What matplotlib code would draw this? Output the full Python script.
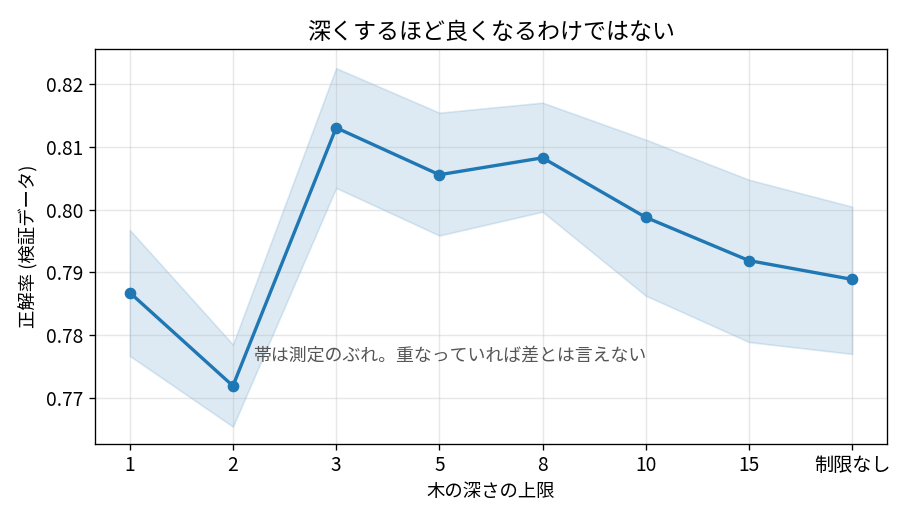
import matplotlib
matplotlib.use("Agg")
import matplotlib.pyplot as plt
import numpy as np

plt.rcParams['font.family'] = ['Noto Sans CJK JP', 'DejaVu Sans']

depth_labels = ["1", "2", "3", "5", "8", "10", "15", "制限なし"]
mean_acc = [0.7868, 0.7719, 0.8131, 0.8056, 0.8083, 0.7988, 0.7919, 0.7889]
upper_acc = [0.7968, 0.7785, 0.8226, 0.8155, 0.8171, 0.8112, 0.8048, 0.8005]
lower_acc = [0.7767, 0.7654, 0.8035, 0.7959, 0.7997, 0.7863, 0.7789, 0.7770]

DPI = 120
fig, ax = plt.subplots(figsize=(910 / DPI, 520 / DPI), dpi=DPI)
fig.subplots_adjust(left=0.104, right=0.975, top=0.905, bottom=0.147)

x = np.arange(len(depth_labels))
color = '#1f77b4'
ax.fill_between(x, lower_acc, upper_acc, color=color, alpha=0.15)
ax.plot(x, mean_acc, marker='o', color=color, linewidth=2, markersize=6)

ax.set_xticks(x)
ax.set_xticklabels(depth_labels, fontsize=11.5)
ax.tick_params(axis='y', labelsize=11.5)
ax.set_yticks([0.77, 0.78, 0.79, 0.80, 0.81, 0.82])
ax.set_yticklabels(["0.77", "0.78", "0.79", "0.80", "0.81", "0.82"])
ax.set_xlim(-0.34, 7.34)
ax.set_ylim(0.7627, 0.8256)
ax.grid(True, alpha=0.3)
ax.set_xlabel("木の深さの上限", fontsize=11)
ax.set_ylabel("正解率 (検証データ)", fontsize=11)
ax.set_title("深くするほど良くなるわけではない", fontsize=13.8)
ax.text(1.2, 0.7767, "帯は測定のぶれ。重なっていれば差とは言えない",
        fontsize=10.75, color='#555555', va='center', ha='left')

fig.savefig("out.png", dpi=DPI)
